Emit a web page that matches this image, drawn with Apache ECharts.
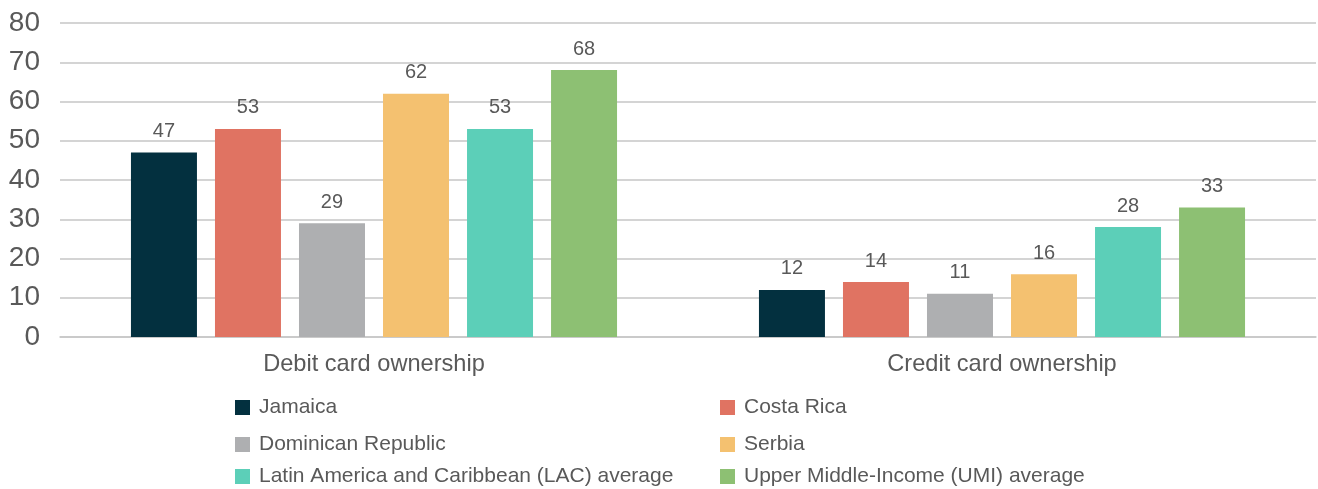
<!DOCTYPE html>
<html>
<head>
<meta charset="utf-8">
<style>
  html, body { margin: 0; padding: 0; background: #ffffff; }
  #chart { width: 1318px; height: 489px; }
</style>
<script src="https://cdn.jsdelivr.net/npm/echarts@6/dist/echarts.min.js"></script>
</head>
<body>
<div id="chart"></div>
<script>
// Card ownership (% of adults)
const categories = ['Debit card ownership', 'Credit card ownership'];
const seriesNames = [
  'Jamaica',
  'Costa Rica',
  'Dominican Republic',
  'Serbia',
  'Latin America and Caribbean (LAC) average',
  'Upper Middle-Income (UMI) average'
];
const jamaica = [47, 12];
const costaRica = [53, 14];
const dominicanRepublic = [29, 11];
const serbia = [62, 16];
const lacAverage = [53, 28];
const umiAverage = [68, 33];
const yTicks = [0, 10, 20, 30, 40, 50, 60, 70, 80];

const seriesValues = [jamaica, costaRica, dominicanRepublic, serbia, lacAverage, umiAverage];
const colors = ['#03303F', '#E07362', '#AEAFB1', '#F4C170', '#5CCFB8', '#8DC073'];

const FONT = '"Liberation Sans", Arial, sans-serif';
const TEXT = '#595959';

// Legend laid out in two columns, three rows
const legendPos = [
  { left: 235, top: 397 },
  { left: 720, top: 397 },
  { left: 235, top: 434 },
  { left: 720, top: 434 },
  { left: 235, top: 466 },
  { left: 720, top: 466 }
];

const legends = seriesNames.map((name, i) => ({
  data: [name],
  left: legendPos[i].left,
  top: legendPos[i].top,
  padding: 0,
  icon: 'rect',
  itemWidth: 15,
  itemHeight: 15,
  selectedMode: false,
  textStyle: { fontFamily: FONT, fontSize: 21, color: TEXT, padding: [0, 0, 0, 4] }
}));

const chart = echarts.init(document.getElementById('chart'), null, { renderer: 'canvas' });
chart.setOption({
  animation: false,
  backgroundColor: '#ffffff',
  color: colors,
  textStyle: { fontFamily: FONT },
  legend: legends,
  grid: { left: 60, right: 2, top: 23, bottom: 152, containLabel: false },
  xAxis: {
    type: 'category',
    data: categories,
    axisTick: { show: false },
    axisLine: { lineStyle: { color: '#C6C6C6', width: 1.5 } },
    axisLabel: { fontFamily: FONT, fontSize: 23.6, color: TEXT, margin: 15 }
  },
  yAxis: {
    type: 'value',
    min: yTicks[0],
    max: yTicks[yTicks.length - 1],
    interval: 10,
    axisLine: { show: false },
    axisTick: { show: false },
    splitLine: { lineStyle: { color: '#C6C6C6', width: 1.5 } },
    axisLabel: { fontFamily: FONT, fontSize: 28, color: TEXT, margin: 20 }
  },
  series: seriesNames.map((name, i) => ({
    name: name,
    type: 'bar',
    data: seriesValues[i],
    barWidth: 66,
    barGap: '27.3%',
    itemStyle: { color: colors[i] },
    label: {
      show: true,
      position: 'top',
      distance: 11,
      fontFamily: FONT,
      fontSize: 20,
      color: TEXT
    }
  }))
});
</script>
</body>
</html>
